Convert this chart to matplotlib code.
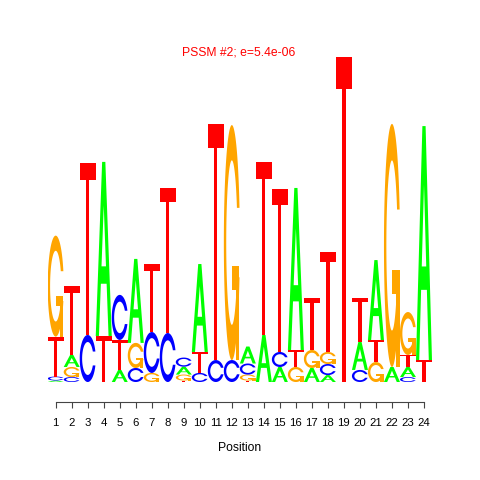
import matplotlib
matplotlib.use("Agg")
import matplotlib.pyplot as plt
from matplotlib.patches import Polygon
import numpy as np

# ---- data (information content in bits, per position) ----
positions = list(range(1, 25))
A_bits = [0.009, 0.073, 0.000, 1.055, 0.073, 0.509, 0.000, 0.000, 0.048, 0.533, 0.000, 0.000,
          0.103, 0.285, 0.091, 0.982, 0.085, 0.042, 0.000, 0.170, 0.485, 0.091, 0.061, 1.418]
C_bits = [0.024, 0.030, 0.285, 0.000, 0.273, 0.085, 0.248, 0.297, 0.055, 0.055, 0.133, 0.133,
          0.067, 0.000, 0.091, 0.000, 0.000, 0.067, 0.000, 0.073, 0.000, 0.000, 0.030, 0.000]
G_bits = [0.612, 0.061, 0.000, 0.000, 0.000, 0.152, 0.055, 0.000, 0.036, 0.000, 0.000, 1.424,
          0.036, 0.000, 0.000, 0.091, 0.109, 0.073, 0.000, 0.000, 0.121, 1.473, 0.260, 0.000]
T_bits = [0.242, 0.418, 1.042, 0.279, 0.182, 0.000, 0.412, 0.879, 0.009, 0.127, 1.430, 0.000,
          0.009, 1.048, 0.988, 0.103, 0.315, 0.606, 1.970, 0.267, 0.133, 0.000, 0.073, 0.133]
letters = ["A", "C", "G", "T"]
letter_colors = {"A": "#00FF00", "C": "#0000FF", "G": "#FFA500", "T": "#FF0000"}
title_text = "PSSM #2; e=5.4e-06"
xlabel_text = "Position"


# ---- glyph shapes in a unit box (seqLogo-style polygons) ----
def shape_A():
    x = np.array([0, 4, 6, 10, 8, 6.8, 3.2, 2, 0]) * 0.1
    y = np.array([0, 10, 10, 0, 0, 3, 3, 0, 0]) * 0.1
    xi = np.array([3.6, 5, 6.4, 3.6]) * 0.1
    yi = np.array([4, 7.5, 4, 4]) * 0.1
    return [(x, y, None), (xi, yi, "white")]


def shape_T():
    x = np.array([0, 10, 10, 6, 6, 4, 4, 0]) * 0.1
    y = np.array([10, 10, 9, 9, 0, 0, 9, 9]) * 0.1
    return [(x, y, None)]


def c_outline():
    a1 = np.linspace(0.3 + np.pi / 2, np.pi, 100)
    a2 = np.linspace(np.pi, 1.5 * np.pi, 100)
    xl1 = 0.5 + 0.5 * np.sin(a1)
    yl1 = 0.5 + 0.5 * np.cos(a1)
    xl2 = 0.5 + 0.5 * np.sin(a2)
    yl2 = 0.5 + 0.5 * np.cos(a2)
    xl = np.concatenate([xl1, xl2])
    yl = np.concatenate([yl1, yl2])
    x = np.concatenate([xl, xl[::-1]])
    y = np.concatenate([yl, 1 - yl[::-1]])
    xi1 = 0.5 + 0.35 * np.sin(a1)
    yi1 = 0.5 + 0.35 * np.cos(a1)
    keep = yi1 <= yl1.max()
    xi1 = xi1[keep]
    yi1 = yi1[keep]
    yi1[0] = yl1.max()
    xi2 = 0.5 + 0.35 * np.sin(a2)
    yi2 = 0.5 + 0.35 * np.cos(a2)
    xi = np.concatenate([xi1, xi2])
    yi = np.concatenate([yi1, yi2])
    x1 = np.concatenate([xi, xi[::-1]])
    y1 = np.concatenate([yi, 1 - yi[::-1]])
    x = np.concatenate([x, x1[::-1]])
    y = np.concatenate([y, y1[::-1]])
    return x, y, xl1.max()


def shape_C():
    x, y, _ = c_outline()
    return [(x, y, None)]


def shape_G():
    x, y, r1 = c_outline()
    h1 = 0.4
    xa = np.array([r1, 0.5, 0.5, r1 - 0.2, r1 - 0.2, r1, r1])
    ya = np.array([h1, h1, h1 - 0.1, h1 - 0.1, 0, 0, h1])
    return [(x, y, None), (xa, ya, None)]


shapes = {"A": shape_A(), "C": shape_C(), "G": shape_G(), "T": shape_T()}

fig = plt.figure(figsize=(4.8, 4.8), dpi=100)
ax = fig.add_axes([47.7 / 480, 98 / 480, 384.3 / 480, 330 / 480])
ax.set_xlim(0.5, 24.5)
ax.set_ylim(0, 2)

width = 1.0
heights = {"A": A_bits, "C": C_bits, "G": G_bits, "T": T_bits}
for i, xpos in enumerate(positions):
    col = [(L, heights[L][i]) for L in letters if heights[L][i] > 0]
    col.sort(key=lambda t: t[1])
    y0 = 0.0
    for L, h in col:
        for px, py, fc in shapes[L]:
            pts = np.column_stack([xpos - width / 2 + width * px, y0 + h * py])
            ax.add_patch(Polygon(pts, closed=True, facecolor=fc or letter_colors[L],
                                 edgecolor="none", lw=0))
        y0 += h

for s in ["top", "right", "left"]:
    ax.spines[s].set_visible(False)
ax.spines["bottom"].set_position(("outward", 14.4))
ax.spines["bottom"].set_bounds(1, 24)
ax.spines["bottom"].set_color("#444444")
ax.set_yticks([])
ax.set_xticks(positions)
ax.set_xticklabels([str(p) for p in positions], fontsize=8.2, family="Liberation Sans")
ax.tick_params(axis="x", direction="out", length=4.3, color="#444444", pad=7)
ax.set_xlabel(xlabel_text, fontsize=8.7, family="Liberation Sans", labelpad=10)

fig.text(239 / 480, 1 - 52.5 / 480, title_text, color="red", fontsize=8.7,
         family="Liberation Sans", ha="center", va="center")

fig.savefig("out.png", dpi=100)
